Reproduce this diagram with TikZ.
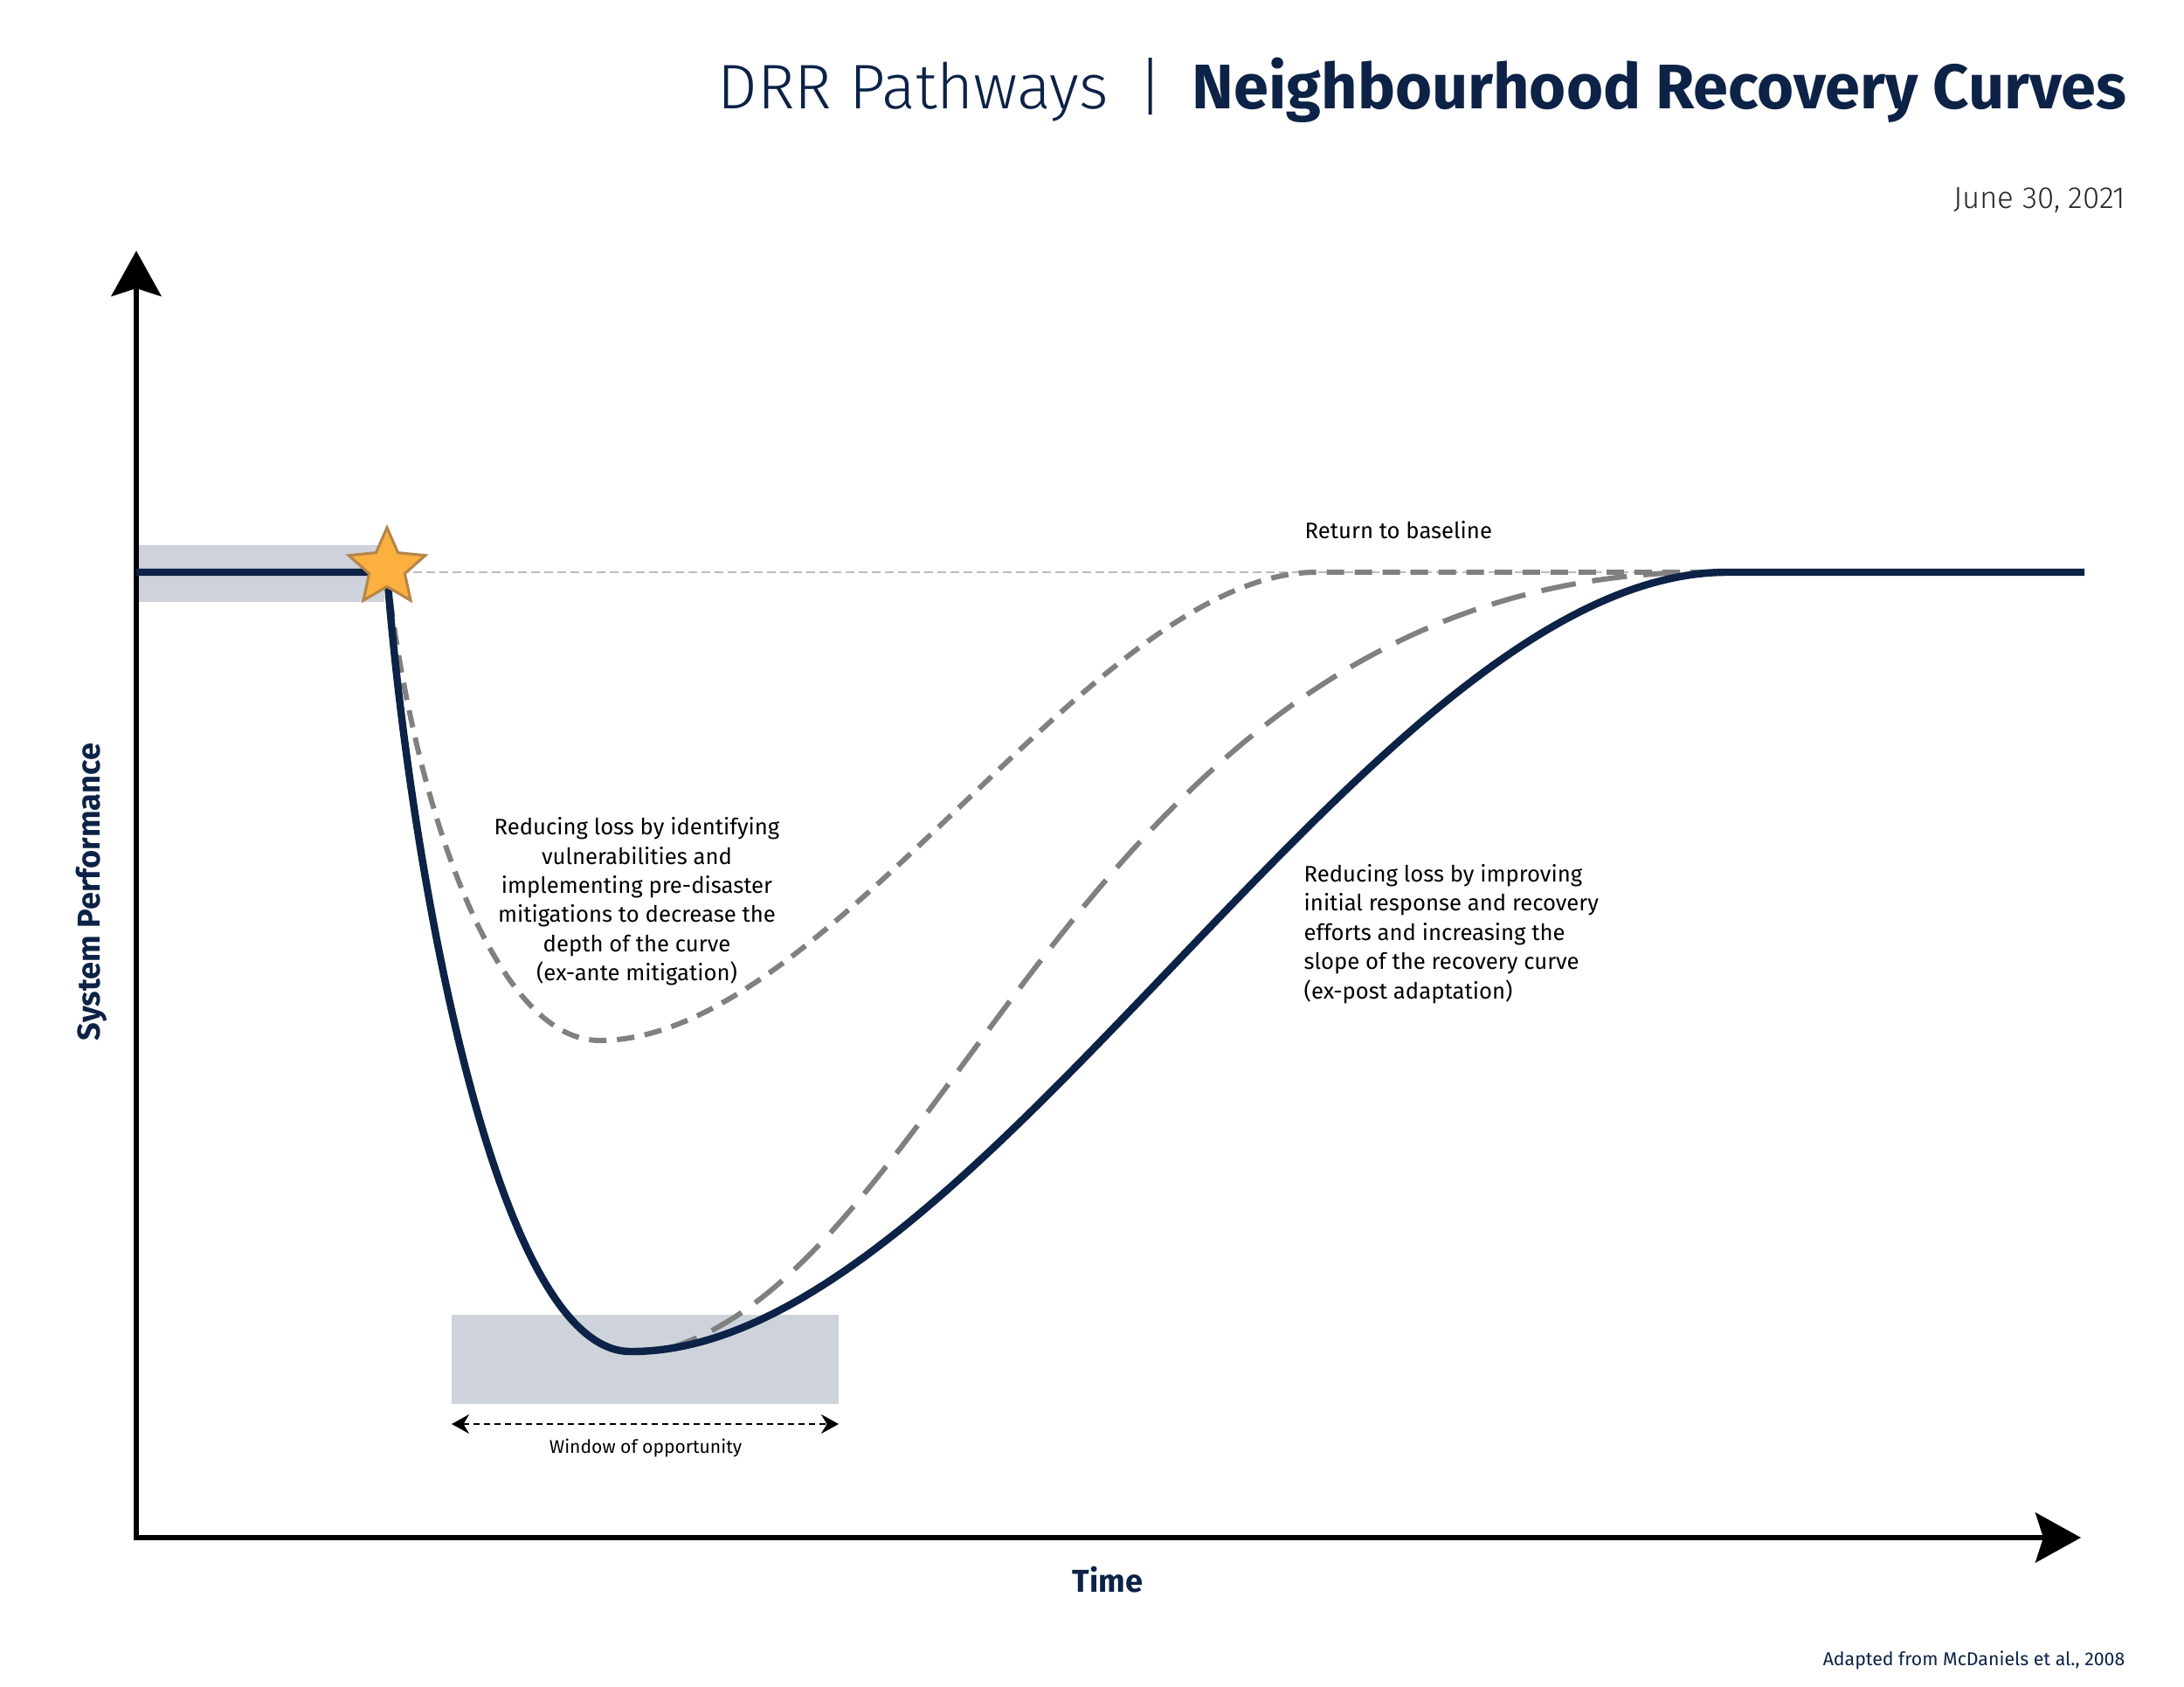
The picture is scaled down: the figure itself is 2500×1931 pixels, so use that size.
\documentclass[tikz,border=0pt]{standalone}
\usepackage{fontspec}
\usepackage{tikz}
\usetikzlibrary{shapes.geometric, arrows.meta, positioning}
\setmainfont{Fira Sans}
\IfFontExistsTF{Fira Sans Light}{\newfontfamily\lightfont{Fira Sans Light}}{\newfontfamily\lightfont{Fira Sans}}
\IfFontExistsTF{Fira Sans Book}{\newfontfamily\bookfont{Fira Sans Book}}{\newfontfamily\bookfont{Fira Sans}}
\IfFontExistsTF{Fira Sans Heavy}{\newfontfamily\heavyfont{Fira Sans Heavy}}{\newfontfamily\heavyfont{Fira Sans}[UprightFont={* Bold}]}
\definecolor{drrnavy}{RGB}{12, 34, 70}
\definecolor{bandgrey}{RGB}{206, 211, 219}
\definecolor{curvegrey}{RGB}{128, 128, 128}
\definecolor{basegrey}{RGB}{187, 187, 187}
\definecolor{starfill}{RGB}{251, 176, 64}
\definecolor{stardraw}{RGB}{184, 134, 74}

\begin{document}
\begin{tikzpicture}[x=0.01cm, y=-0.01cm,
    axis/.style={line width=1.7pt, black, -{Stealth[length=0.52cm, width=0.57cm, inset=0.09cm]}},
    band/.style={fill=bandgrey, draw=none},
    recovery/.style={line width=2.4pt, drrnavy},
    antecurve/.style={line width=1.7pt, curvegrey, dash pattern=on 0.2cm off 0.12cm},
    postcurve/.style={line width=1.7pt, curvegrey, dash pattern=on 0.4cm off 0.19cm},
    baseref/.style={line width=0.6pt, basegrey, dash pattern=on 0.1cm off 0.05cm},
    window/.style={line width=0.6pt, black, dash pattern=on 0.07cm off 0.05cm,
                   {Stealth[length=0.2cm, width=0.22cm]}-{Stealth[length=0.2cm, width=0.22cm]}},
    note/.style={font=\bookfont\fontsize{7.3}{9.5}\selectfont, text=black, inner sep=0pt},
    axislabel/.style={font=\heavyfont\fontsize{10.3}{12}\selectfont, text=drrnavy, inner sep=0pt},
]
\useasboundingbox (0,0) rectangle (2500,1931);

% shaded bands
\fill[band] (156,624) rectangle (440,689);
\fill[band] (517,1505) rectangle (960,1607);

% axes
\coordinate (origin) at (156,1760);
\coordinate (ytop) at (156,287);
\coordinate (xend) at (2382,1760);
\draw[axis] ([yshift=-0.03cm]origin) -- (ytop);
\draw[axis] ([xshift=-0.03cm]origin) -- (xend);

% key points on the curves
\coordinate (start) at (156,655);
\coordinate (hazard) at (443,655);
\coordinate (trough) at (721,1547);
\coordinate (antelow) at (686,1191);
\coordinate (anteback) at (1507,655);
\coordinate (postoff) at (760,1545);
\coordinate (baseline) at (1977,655);
\coordinate (end) at (2386,655);

\draw[baseref] (hazard) -- (end);

% ex-ante and ex-post curves
\draw[antecurve] (hazard) .. controls (470,900) and (560,1190) .. (antelow)
    .. controls (950,1191) and (1250,655) .. (anteback) -- (baseline);
\draw[postcurve] (postoff) .. controls (1100,1450) and (1250,640) .. (baseline);

% recovery curve
\draw[recovery] (start) -- (hazard) .. controls (465,950) and (560,1545) .. (trough)
    .. controls (1120,1550) and (1570,655) .. (baseline) -- (end);

\node[star, star points=5, star point ratio=2.15, minimum size=0.92cm, inner sep=0pt,
      fill=starfill, draw=stardraw, line width=0.9pt] (event) at (443,650) {};

% window of opportunity
\coordinate (winleft) at (517,1630);
\coordinate (winright) at (960,1630);
\draw[window] (winleft) -- (winright);
\node[font=\bookfont\fontsize{6.0}{7}\selectfont, inner sep=0pt, anchor=base] (winlabel) at (739,1663) {Window of opportunity};

\node[note, anchor=base west] (baselabel) at (1493,617) {Return to baseline};
\node[note, align=center] (antenote) at (729,1032) {Reducing loss by identifying\\vulnerabilities and\\implementing pre-disaster\\mitigations to decrease the\\depth of the curve\\(ex-ante mitigation)};
\node[note, align=left, anchor=west] (postnote) at (1492,1069) {Reducing loss by improving\\initial response and recovery\\efforts and increasing the\\slope of the recovery curve\\(ex-post adaptation)};

\node[axislabel, rotate=90] (ylabel) at (105,1021) {System Performance};
\node[axislabel, anchor=base] (xlabel) at (1268,1822) {Time};

% heading and source
\node[anchor=base east, inner sep=0pt, text=drrnavy, font=\fontsize{20.5}{25}\selectfont] (title) at (2435,125)
    {{\lightfont DRR Pathways}\hspace{9.5pt}{\lightfont|}\hspace{9.5pt}{\heavyfont Neighbourhood Recovery Curves}};
\node[anchor=base east, inner sep=0pt, text=black!85, font=\lightfont\fontsize{9.9}{12}\selectfont] (date) at (2434,239) {June 30, 2021};
\node[anchor=base east, inner sep=0pt, text=drrnavy, font=\bookfont\fontsize{6.05}{8}\selectfont] (source) at (2433,1906) {Adapted from McDaniels et al., 2008};
\end{tikzpicture}
\end{document}
